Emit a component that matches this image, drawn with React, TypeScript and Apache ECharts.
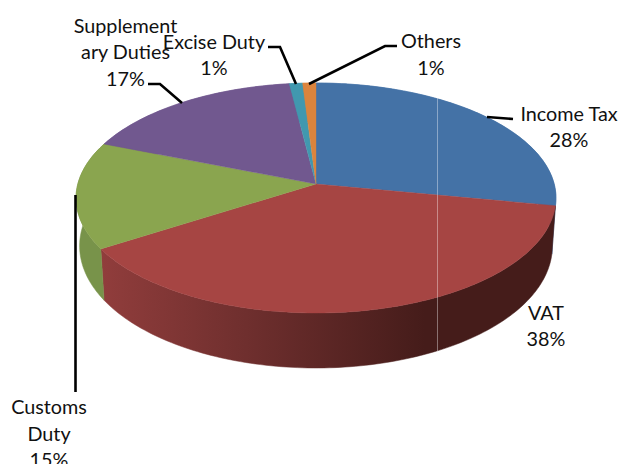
import React, { useEffect, useRef } from "react";
import * as echarts from "echarts";

const categories = ["Income Tax", "VAT", "Customs Duty", "Supplementary Duties", "Excise Duty", "Others"];
const shares = [28, 38, 15, 17, 1, 1];
const topColors = ["#4472a6", "#a64543", "#8aa54f", "#71588f", "#4198af", "#db843d"];
const labelLines = [["Income Tax"], ["VAT"], ["Customs", "Duty"], ["Supplement", "ary Duties"], ["Excise Duty"], ["Others"]];
const labelAnchors = [[569, 126], [546, 325], [49, 432.5], [125.5, 51], [214, 54], [431, 53.5]];
const leaderLines = [
  [[487, 117], [513, 119]],
  [],
  [[75.5, 195], [75.5, 392]],
  [[148, 84], [160, 84], [182, 103]],
  [[268, 47], [280, 47], [296, 84]],
  [[309, 84], [385, 46], [397, 46]],
];

// perspective disc
const HUB_X = 316;
const HUB_Y = 184;
const RX = 238.2;
const RY = 113.3;
const K = 0.1217;

function project(theta: number, bottom: boolean): number[] {
  const X = Math.sin(theta);
  const Y = -Math.cos(theta);
  const w = 1 - K * Y;
  const px = (RX * X) / w;
  const py = (RY * Y) / w;
  if (!bottom) return [HUB_X + px, HUB_Y + py];
  return [HUB_X + px * 0.985, HUB_Y + py + 47 + 8 * Y];
}

function arc(t0: number, t1: number, bottom: boolean): number[][] {
  const n = Math.max(2, Math.ceil((t1 - t0) / 0.02));
  const pts: number[][] = [];
  for (let i = 0; i <= n; i++) pts.push(project(t0 + ((t1 - t0) * i) / n, bottom));
  return pts;
}

const total = shares.reduce((a, b) => a + b, 0);
let running = 0;
const sliceData = shares.map((v, i) => {
  const item = [i, running, running + v];
  running += v;
  return item;
});

function range(api: any): number[] {
  const f = (Math.PI * 2) / total;
  return [api.value(1) * f, api.value(2) * f];
}

function wallFill(i: number): any {
  if (i === 1) {
    return new echarts.graphic.LinearGradient(
      100, 0, 425, 0,
      [
        { offset: 0, color: "#913d3c" },
        { offset: 0.45, color: "#6f2f2e" },
        { offset: 1, color: "#451c1a" },
      ],
      true
    );
  }
  if (i === 2) return "#78934a";
  return topColors[i];
}

function App() {
  const ref = useRef<HTMLDivElement>(null);
  useEffect(() => {
    document.body.style.margin = "0";
    const chart = echarts.init(ref.current!, null, { renderer: "svg" });
    const textStyle = { fontFamily: "Lato", fontSize: 19.8, fill: "#111", lineHeight: 26.5 };
    chart.setOption({
      animation: false,
      backgroundColor: "#fff",
      series: [
        {
          type: "custom",
          coordinateSystem: "none",
          z: 1,
          silent: true,
          data: sliceData,
          renderItem: (p: any, api: any) => {
            const [a, b] = range(api);
            const fill = wallFill(p.dataIndex);
            return {
              type: "polygon",
              shape: { points: [...arc(a, b, false), ...arc(a, b, true).reverse()] },
              style: { fill, stroke: fill, lineWidth: 0.5 },
            };
          },
        },
        {
          type: "custom",
          coordinateSystem: "none",
          z: 2,
          silent: true,
          data: sliceData,
          renderItem: (p: any, api: any) => {
            const [a, b] = range(api);
            const fill = topColors[p.dataIndex];
            return {
              type: "polygon",
              shape: { points: [[HUB_X, HUB_Y], ...arc(a, b, false)] },
              style: { fill, stroke: fill, lineWidth: 0.4 },
            };
          },
        },
      ],
      graphic: [
        {
          type: "line",
          z: 5,
          silent: true,
          shape: { x1: 437.5, y1: 97, x2: 437.5, y2: 351 },
          style: { stroke: "rgba(255,255,255,0.38)", lineWidth: 1 },
        },
        ...leaderLines
          .filter((l) => l.length > 0)
          .map((l) => ({
            type: "polyline",
            z: 6,
            silent: true,
            shape: { points: l },
            style: { stroke: "#000", lineWidth: 2.6, fill: "none" },
          })),
        ...categories.map((_, i) => ({
          type: "text",
          z: 7,
          silent: true,
          x: labelAnchors[i][0],
          y: labelAnchors[i][1],
          style: {
            ...textStyle,
            text: [...labelLines[i], `${shares[i]}%`].join("\n"),
            align: "center",
            verticalAlign: "middle",
          },
        })),
      ],
    });
    return () => chart.dispose();
  }, []);
  return <div ref={ref} style={{ width: 620, height: 464, position: "absolute", left: 0, top: 0 }} />;
}

export default App;
